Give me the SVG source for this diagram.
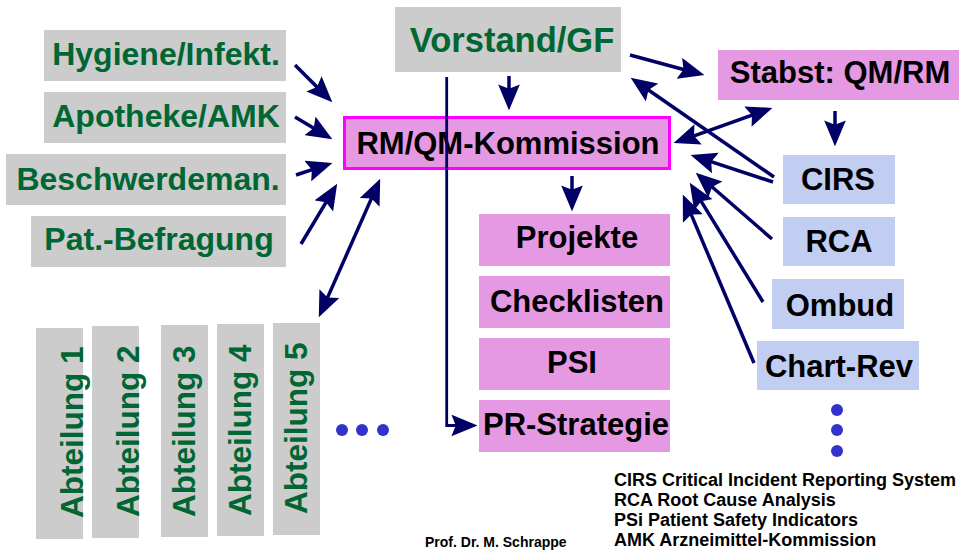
<svg xmlns="http://www.w3.org/2000/svg" width="959" height="550" viewBox="0 0 959 550">
<style>
text{font-family:"Liberation Sans",Arial,sans-serif;font-weight:bold}
.g{fill:#cccccc}
.p{fill:#e699e3}
.b{fill:#c2cdf2}
.tg{fill:#006633;font-size:32px;text-anchor:middle}
.tk{fill:#000000;font-size:31px;text-anchor:middle}
.ab{fill:#006633;font-size:31.5px}
.lg{fill:#000000;font-size:18px}
.c{stroke:#000066;stroke-width:3.5;fill:none;marker-end:url(#ah)}
.d{stroke:#000066;stroke-width:3.5;fill:none;marker-end:url(#ah);marker-start:url(#ah)}
.dot{fill:#3333cc}
</style>
<defs>
<marker id="ah" markerUnits="userSpaceOnUse" markerWidth="26" markerHeight="22" viewBox="0 0 24 20" refX="19" refY="10" orient="auto-start-reverse">
<path d="M0,0 L24,10 L0,20 L4,10 z" fill="#000066"/>
</marker>
</defs>

<g id="hygiene"><rect class="g" x="44" y="30" width="242" height="51"/><text class="tg" x="166" y="65">Hygiene/Infekt.</text></g>
<g id="apotheke"><rect class="g" x="44" y="92" width="242" height="51"/><text class="tg" x="166" y="127">Apotheke/AMK</text></g>
<g id="beschwerde"><rect class="g" x="6" y="154" width="280" height="51"/><text class="tg" x="148" y="190">Beschwerdeman.</text></g>
<g id="befragung"><rect class="g" x="31" y="216" width="255" height="51"/><text class="tg" x="159" y="250">Pat.-Befragung</text></g>

<g id="vorstand"><rect class="g" x="395" y="7" width="226" height="65"/><text class="tg" x="512" y="52" style="font-size:34.5px">Vorstand/GF</text></g>

<g id="kommission"><rect x="344.5" y="117.5" width="325" height="51" fill="#e699e3" stroke="#ff00ff" stroke-width="3"/><text class="tk" x="508" y="154">RM/QM-Kommission</text></g>

<g id="stabst"><rect class="p" x="718" y="50" width="241" height="50"/><text class="tk" x="840" y="83">Stabst: QM/RM</text></g>

<g id="cirs"><rect class="b" x="783" y="155" width="112" height="49"/><text class="tk" x="838" y="190">CIRS</text></g>
<g id="rca"><rect class="b" x="783" y="217" width="112" height="49"/><text class="tk" x="839" y="252">RCA</text></g>
<g id="ombud"><rect class="b" x="772" y="279" width="132" height="50"/><text class="tk" x="840" y="316">Ombud</text></g>
<g id="chartrev"><rect class="b" x="757" y="341" width="162" height="49"/><text class="tk" x="839" y="377">Chart-Rev</text></g>
<g id="vdots"><circle class="dot" cx="837" cy="410" r="6"/><circle class="dot" cx="837" cy="430" r="6"/><circle class="dot" cx="837" cy="451" r="6"/></g>

<g id="projekte"><rect class="p" x="479" y="214" width="191" height="52"/><text class="tk" x="577" y="248">Projekte</text></g>
<g id="checklisten"><rect class="p" x="479" y="276" width="191" height="52"/><text class="tk" x="577" y="312">Checklisten</text></g>
<g id="psi"><rect class="p" x="479" y="338" width="191" height="52"/><text class="tk" x="572" y="373">PSI</text></g>
<g id="prstrategie"><rect class="p" x="479" y="400" width="191" height="52"/><text class="tk" x="576" y="435">PR-Strategie</text></g>

<g id="abteilung1"><rect class="g" x="36" y="328" width="47" height="211"/><text class="ab" transform="translate(83,518) rotate(-90)">Abteilung 1</text></g>
<g id="abteilung2"><rect class="g" x="92" y="326" width="47" height="212"/><text class="ab" transform="translate(139,517) rotate(-90)">Abteilung 2</text></g>
<g id="abteilung3"><rect class="g" x="161" y="325" width="47" height="212"/><text class="ab" transform="translate(195,517) rotate(-90)">Abteilung 3</text></g>
<g id="abteilung4"><rect class="g" x="217" y="324" width="47" height="212"/><text class="ab" transform="translate(251,516) rotate(-90)">Abteilung 4</text></g>
<g id="abteilung5"><rect class="g" x="273" y="323" width="47" height="212"/><text class="ab" transform="translate(307,514) rotate(-90)">Abteilung 5</text></g>
<g id="hdots"><circle class="dot" cx="342" cy="430" r="6"/><circle class="dot" cx="362" cy="430" r="6"/><circle class="dot" cx="383" cy="430" r="6"/></g>

<g id="connectors">
<line class="c" x1="295" y1="65" x2="328.5" y2="98.5"/>
<line class="c" x1="295" y1="117" x2="327.7" y2="136.4"/>
<line class="c" x1="296" y1="175" x2="327.3" y2="164.6"/>
<line class="c" x1="301" y1="244" x2="334.4" y2="188.3"/>
<line class="d" x1="321" y1="312.4" x2="378" y2="183.6"/>
<line class="c" x1="509" y1="76" x2="509" y2="105"/>
<line class="c" x1="630" y1="55" x2="699.2" y2="73.7"/>
<line class="d" x1="767.3" y1="109.7" x2="678.7" y2="141.3"/>
<line class="c" x1="774" y1="177" x2="635.1" y2="80.8"/>
<line class="c" x1="773" y1="182" x2="695.8" y2="156.6"/>
<line class="c" x1="835" y1="111" x2="835" y2="141"/>
<line class="c" x1="572" y1="176" x2="572" y2="206"/>
<line class="c" x1="772" y1="239" x2="699.8" y2="176.3"/>
<line class="c" x1="763" y1="302" x2="692.6" y2="187.3"/>
<line class="c" x1="754" y1="363" x2="684.9" y2="199.6"/>
<path class="c" style="stroke-width:2.8" d="M446.7,77 V425.5 H472"/>
</g>

<g id="legend">
<text class="lg" x="614" y="486">CIRS Critical Incident Reporting System</text>
<text class="lg" x="614" y="506">RCA Root Cause Analysis</text>
<text class="lg" x="614" y="526">PSi Patient Safety Indicators</text>
<text class="lg" x="614" y="546">AMK Arzneimittel-Kommission</text>
</g>
<text x="425" y="547" style="font-size:14px;fill:#000000">Prof. Dr. M. Schrappe</text>
</svg>
